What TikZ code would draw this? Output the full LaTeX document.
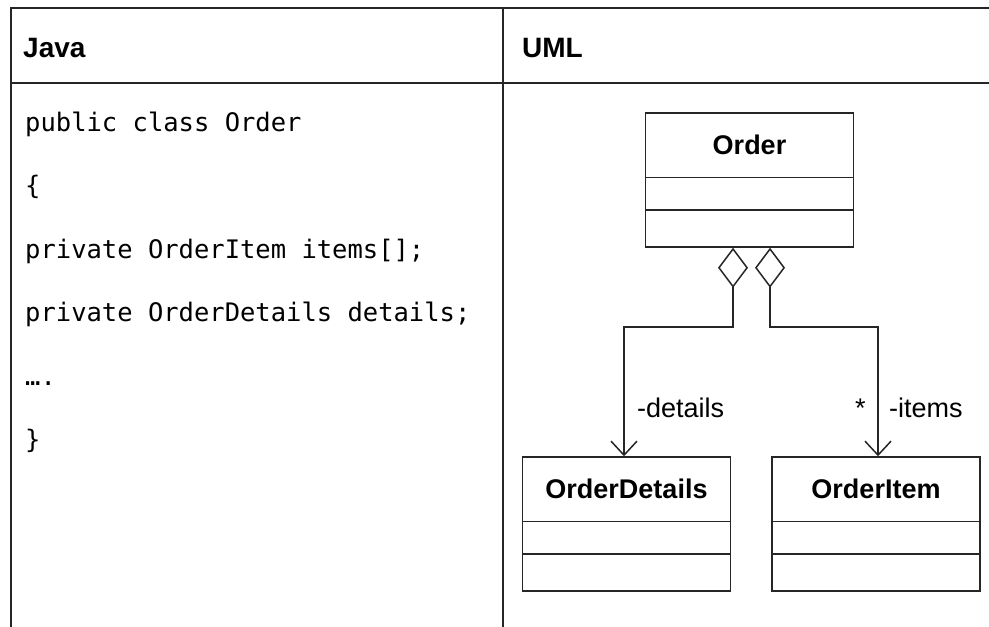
\documentclass[tikz,border=0pt]{standalone}
\usepackage{fontspec}
\setmainfont{Liberation Sans}
\newfontfamily\codefont{DejaVu Sans Mono}
\usetikzlibrary{arrows.meta,calc}

% class box: name, centre, title
\newcommand{\umlclass}[3]{%
  \node[classbox] (#1) at (#2) {};
  \node[classname] (#1-title) at ($(#1.north)!0.24!(#1.south)$) {#3};
  \draw[classline] ($(#1.north west)!0.48!(#1.south west)$) -- ($(#1.north east)!0.48!(#1.south east)$);
  \draw[classline] ($(#1.north west)!0.72!(#1.south west)$) -- ($(#1.north east)!0.72!(#1.south east)$);
}

\begin{document}
\begin{tikzpicture}[x=1pt, y=-1pt,
    tableline/.style={line width=2pt, black!85},
    classline/.style={line width=1.5pt, black!85},
    classbox/.style={draw, classline, minimum width=208pt, minimum height=134pt, inner sep=0pt},
    classname/.style={font=\fontsize{27}{30}\selectfont\bfseries},
    header/.style={font=\fontsize{28}{32}\selectfont\bfseries, anchor=base west, inner sep=0pt},
    codeline/.style={font=\codefont\fontsize{25.5}{30}\selectfont, anchor=base west, inner sep=0pt},
    rolelabel/.style={font=\fontsize{27}{30}\selectfont, anchor=base west, inner sep=0pt},
    aggr/.style={classline, {Diamond[open, length=40pt, width=30pt]}-{Straight Barb[length=14pt, width=26pt]}}]
    \useasboundingbox (0,0) rectangle (989,627);

    % Table
    \draw[tableline] (11,627) -- (11,8) -- (989,8);
    \draw[tableline] (11,83) -- (989,83);
    \draw[tableline] (503,8) -- (503,627);

    \node[header] (java) at (23,57) {Java};
    \node[header] (uml) at (522,57) {UML};

    % Java code
    \foreach \t [count=\i] in {public class Order, \{, private OrderItem items[];, private OrderDetails details;, \dots., \}} {
        \node[codeline] (code\i) at (25, 131+63.5*\i-63.5) {\t};
    }

    % UML classes
    \umlclass{order}{749.5,180}{Order}
    \umlclass{details}{626.5,524}{OrderDetails}
    \umlclass{item}{876,524}{OrderItem}

    % Aggregations and labels
    \draw[aggr] ([xshift=-16.5pt]order.south) -- ++(0,79) -| ([xshift=-2.5pt]details.north);
    \draw[aggr] ([xshift=20.5pt]order.south) -- ++(0,79) -| ([xshift=2pt]item.north);

    \node[rolelabel] (detailsrole) at (637,417) {-details};
    \node[rolelabel] (itemsmult) at (855,417) {*};
    \node[rolelabel] (itemsrole) at (889,417) {-items};
\end{tikzpicture}
\end{document}
